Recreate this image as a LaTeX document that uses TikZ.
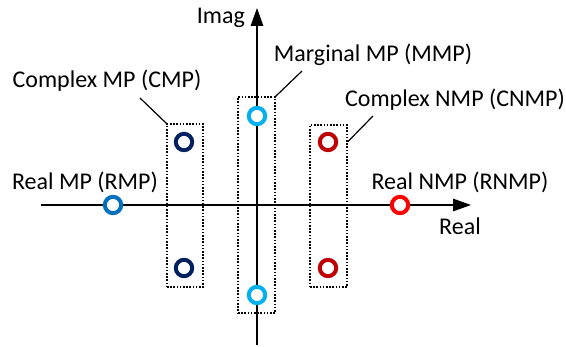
\documentclass[tikz,border=0pt]{standalone}
\usepackage{fontspec}
\setmainfont{Carlito}
\usetikzlibrary{arrows.meta}
\definecolor{rmpc}{HTML}{0070C0}
\definecolor{cmpc}{HTML}{002060}
\definecolor{mmpc}{HTML}{00B0F0}
\definecolor{cnmpc}{HTML}{C00000}
\definecolor{rnmpc}{HTML}{FF0000}
\begin{document}
\begin{tikzpicture}[x=1pt,y=-1pt,
  pole/.style={circle,draw=#1,line width=4pt,fill=white,minimum size=16.4pt,inner sep=0pt},
  lbl/.style={font=\fontsize{24}{28}\selectfont,inner sep=0pt},
  grp/.style={draw,line width=1.1pt,dash pattern=on 1.6pt off 1.6pt,inner sep=0pt,rectangle},
  axisline/.style={line width=1.5pt,-{Triangle[length=18pt,width=12.5pt]}},
  leader/.style={line width=1.2pt}]
\useasboundingbox (0,0) rectangle (566,347);
% axes
\coordinate (xs) at (41,205);
\coordinate (xe) at (471,205);
\coordinate (ys) at (257,345);
\coordinate (ye) at (257,8);
\draw[axisline] (xs) -- (xe);
\draw[axisline] (ys) -- (ye);
\node[lbl,anchor=east] (imag) at (245,18) {Imag};
\node[lbl] (real) at (460,226) {Real};
% groups
\node[grp,minimum width=36pt,minimum height=163pt] (cmpbox) at (185,205.5) {};
\node[grp,minimum width=37pt,minimum height=216pt] (mmpbox) at (256.5,205) {};
\node[grp,minimum width=37pt,minimum height=162pt] (cnmpbox) at (328.5,206) {};
% poles
\node[pole=rmpc] (rmp) at (113,205) {};
\node[pole=cmpc] (cmp1) at (184,142) {};
\node[pole=cmpc] (cmp2) at (184,268) {};
\node[pole=mmpc] (mmp1) at (257,116) {};
\node[pole=mmpc] (mmp2) at (257,295) {};
\node[pole=cnmpc] (cnmp1) at (328,142) {};
\node[pole=cnmpc] (cnmp2) at (328,268) {};
\node[pole=rnmpc] (rnmp) at (400,205) {};
% labels
\node[lbl] (lcmp) at (107,81) {Complex MP (CMP)};
\node[lbl] (lrmp) at (85,182) {Real MP (RMP)};
\node[lbl] (lmmp) at (373,55) {Marginal MP (MMP)};
\node[lbl] (lcnmp) at (455,100) {Complex NMP (CNMP)};
\node[lbl] (lrnmp) at (460,182) {Real NMP (RNMP)};
% leaders
\coordinate (cmpl) at (140,98);
\coordinate (mmpl) at (302,71);
\coordinate (cnmpl) at (373,116);
\coordinate (cnmpb) at (cnmpbox.east |- cnmp1);
\draw[leader] (cmpl) -- (cmpbox.north west);
\draw[leader] (mmpl) -- (mmpbox.north east);
\draw[leader] (cnmpl) -- (cnmpb);
\end{tikzpicture}
\end{document}
